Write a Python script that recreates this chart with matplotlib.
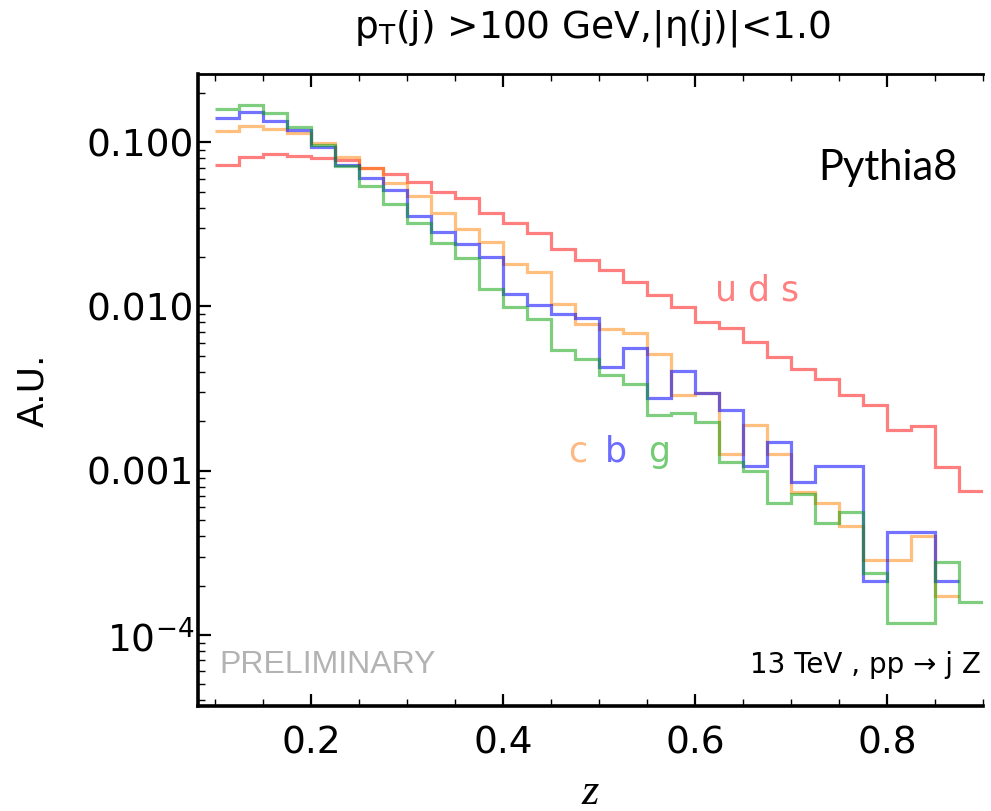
import matplotlib
matplotlib.use("Agg")
import matplotlib.pyplot as plt
import numpy as np
from matplotlib.ticker import FixedLocator, FixedFormatter, LogLocator, NullFormatter, MultipleLocator

# bin edges of the z histograms (width 0.025)
EDGES = np.round(np.arange(0.1, 0.9001, 0.025), 3)

UDS = [0.0724, 0.0814, 0.0842, 0.0825, 0.0796, 0.0777, 0.0692, 0.0639, 0.0573, 0.0498,
       0.0454, 0.0368, 0.0320, 0.0278, 0.0225, 0.0191, 0.0166, 0.0141, 0.0117, 0.00994,
       0.00806, 0.00735, 0.00609, 0.00493, 0.00419, 0.00361, 0.00288, 0.00251, 0.00177,
       0.00188, 0.00105, 0.000755]
GLUON = [0.1589, 0.168, 0.1508, 0.1229, 0.0959, 0.0714, 0.0542, 0.0422, 0.0323, 0.0242,
         0.0196, 0.01269, 0.00998, 0.00834, 0.00545, 0.00478, 0.00382, 0.00337, 0.00218,
         0.00225, 0.00199, 0.00113, 0.000999, 0.000638, 0.000717, 0.000478, 0.000557,
         0.000239, 0.000119, 0.000119, 0.000279, 0.000159]
BOTTOM = [0.1394, 0.1529, 0.1348, 0.1183, 0.0936, 0.0724, 0.0601, 0.0510, 0.0354, 0.0285,
          0.0239, 0.02003, 0.01197, 0.01026, 0.00902, 0.00852, 0.00425, 0.00555, 0.00279,
          0.00406, 0.00298, 0.00234, 0.00107, 0.00149, 0.000856, 0.00107, 0.00107,
          0.000213, 0.000425, 0.000425, 0.000213]
CHARM = [0.1167, 0.1252, 0.1195, 0.1130, 0.0982, 0.0814, 0.0692, 0.0565, 0.0469, 0.0368,
         0.0298, 0.0247, 0.0181, 0.0161, 0.01028, 0.00778, 0.00724, 0.00691, 0.00517,
         0.00288, 0.00298, 0.00126, 0.00191, 0.00126, 0.000744, 0.000635, 0.00046,
         0.000288, 0.000288, 0.000402, 0.000173]

X_TICKS = [0.2, 0.4, 0.6, 0.8]
Y_TICKS = [1e-4, 1e-3, 1e-2, 1e-1]
Y_LABELS = ["10$^{\\mathdefault{-4}}$", "0.001", "0.010", "0.100"]

RED = (1.0, 0.0, 0.0, 0.5)
ORANGE = (1.0, 0.5, 0.0, 0.5)
BLUE = (0.0, 0.0, 1.0, 0.55)
GREEN = (0.0, 0.62, 0.0, 0.5)

plt.rcParams["font.family"] = ["DejaVu Sans"]

fig = plt.figure(figsize=(9.91, 8.11), dpi=100)
ax = fig.add_axes([0.1998, 0.1295, 0.7922, 0.7793])

lw = 2.3
ax.stairs(UDS, EDGES, color=RED, lw=lw, baseline=None)
ax.stairs(CHARM, EDGES[:len(CHARM) + 1], color=ORANGE, lw=lw, baseline=None)
ax.stairs(BOTTOM, EDGES[:len(BOTTOM) + 1], color=BLUE, lw=lw, baseline=None)
ax.stairs(GLUON, EDGES, color=GREEN, lw=lw, baseline=None)

ax.set_yscale("log")
ax.set_xlim(0.0825, 0.9)
ax.set_ylim(3.7e-5, 0.26)

ax.xaxis.set_major_locator(FixedLocator(X_TICKS))
ax.xaxis.set_minor_locator(MultipleLocator(0.05))
ax.yaxis.set_major_locator(FixedLocator(Y_TICKS))
ax.yaxis.set_major_formatter(FixedFormatter(Y_LABELS))
ax.yaxis.set_minor_locator(LogLocator(base=10, subs=np.arange(2, 10)))
ax.yaxis.set_minor_formatter(NullFormatter())

ax.tick_params(axis="both", which="major", direction="in", length=9, width=1.6,
               labelsize=27, top=True, right=False)
ax.tick_params(axis="both", which="minor", direction="in", length=5, width=1.0,
               top=True, right=False)
ax.tick_params(axis="x", which="major", pad=14)
ax.tick_params(axis="y", which="major", pad=3)

for side in ["left", "bottom"]:
    ax.spines[side].set_linewidth(2.6)
ax.spines["top"].set_linewidth(2.0)
ax.spines["right"].set_visible(False)

ax.set_ylabel("A.U.", fontsize=26, labelpad=26)
ax.set_xlabel("z", fontsize=32, family="Liberation Serif", style="italic", labelpad=8)

fig.text(0.598, 0.965, "p$_\\mathrm{T}$(j) >100 GeV,|η(j)|<1.0", fontsize=27,
         ha="center", va="center")

ax.text(0.968, 0.852, "Pythia8", transform=ax.transAxes, fontsize=30, family="Lato",
        ha="right", va="center", color="black")
ax.text(0.712, 0.658, "u d s", transform=ax.transAxes, fontsize=25, color=(1, 0.5, 0.5),
        ha="center", va="center")
ax.text(0.483, 0.402, "c", transform=ax.transAxes, fontsize=25, color=(1, 0.72, 0.5),
        ha="center", va="center")
ax.text(0.532, 0.402, "b", transform=ax.transAxes, fontsize=25, color=(0.42, 0.42, 1.0),
        ha="center", va="center")
ax.text(0.587, 0.402, "g", transform=ax.transAxes, fontsize=25, color=(0.45, 0.8, 0.45),
        ha="center", va="center")

ax.text(0.027, 0.065, "PRELIMINARY", transform=ax.transAxes, fontsize=23,
        family="Liberation Sans", color="#b3b3b3", ha="left", va="center")
ax.text(0.997, 0.065, "13 TeV , pp → j Z", transform=ax.transAxes, fontsize=20,
        ha="right", va="center")

fig.savefig("out.png", dpi=100)
